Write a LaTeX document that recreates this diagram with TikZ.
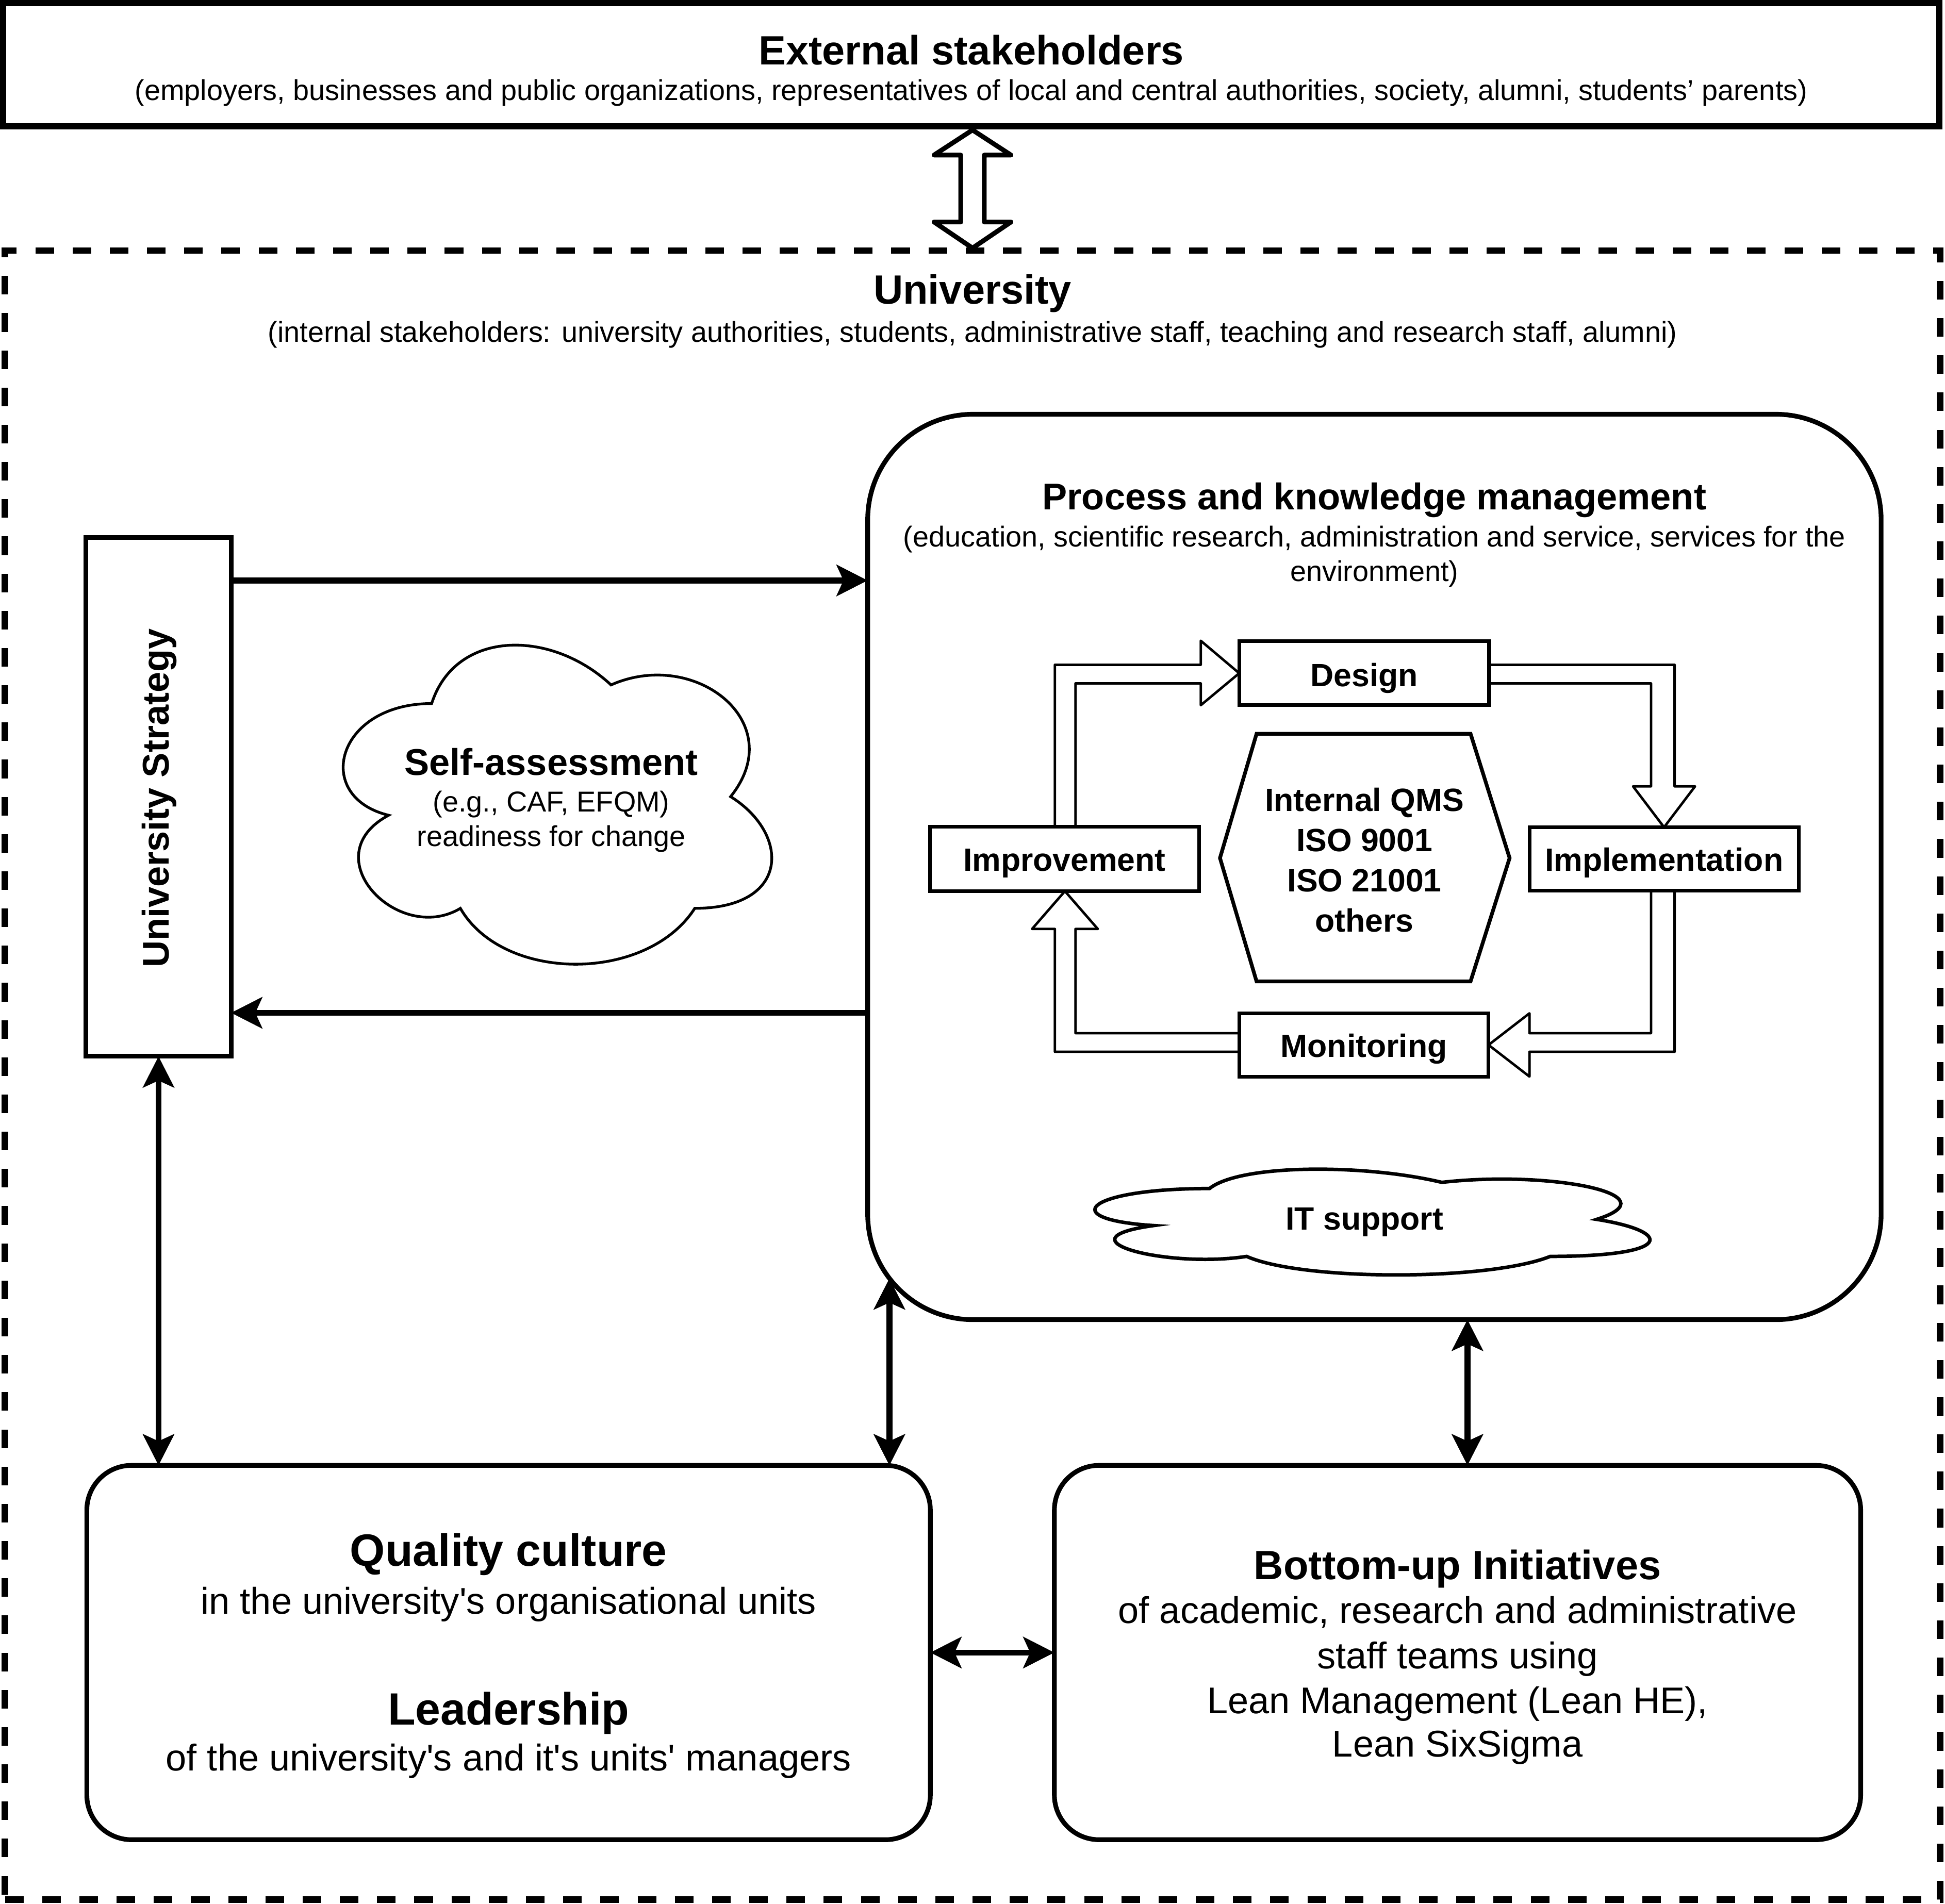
\documentclass[tikz,border=0pt]{standalone}
\usepackage{fontspec}
\setmainfont{Liberation Sans}
\usetikzlibrary{arrows.meta,calc}
\begin{document}
\begin{tikzpicture}[x=1pt,y=-1pt,
  >={Stealth[length=25pt,width=25pt,inset=5.5pt]},
  every node/.style={inner sep=0pt,outer sep=0pt},
  txt/.style={anchor=base},
  fT/.style={font=\fontsize{33}{40}\selectfont\bfseries},
  fS/.style={font=\fontsize{23.2}{28}\selectfont},
  fP/.style={font=\fontsize{30}{36}\selectfont\bfseries},
  fC/.style={font=\fontsize{26}{32}\selectfont\bfseries},
  fQ/.style={font=\fontsize{36.5}{44}\selectfont\bfseries},
  fB/.style={font=\fontsize{30}{36}\selectfont},
  uniframe/.style={draw,line width=5.3pt,dash pattern=on 15pt off 15pt},
  extbox/.style={draw,line width=5pt,fill=white},
  bigbox/.style={draw,line width=3.8pt,fill=white},
  sbox/.style={draw,line width=3.8pt,fill=white},
  cbox/.style={draw,line width=3pt,fill=white},
  barrow/.style={draw,line width=2pt,fill=white,line join=round},
  dblock/.style={draw,line width=3.8pt,fill=white,line join=round},
  conn/.style={line width=4.8pt},
  cloudline/.style={draw,fill=white,line width=2.2pt},
]
\useasboundingbox (0,0) rectangle (1568,1534.8);
\fill[white] (0,0) rectangle (1568,1534.8);

% University frame
\node[uniframe,minimum width=1560pt,minimum height=1329.5pt,anchor=north west] (uni) at (4,202) {};

% External stakeholders
\node[extbox,minimum width=1561pt,minimum height=99.5pt,anchor=north west] (ext) at (2.5,2.5) {};
\node[fT,txt] (extT) at (783,52) {External stakeholders};
\node[fS,txt] (extS) at (783,81) {(employers, businesses and public organizations, representatives of local and central authorities, society, alumni, students’ parents)};

% double block arrow between external stakeholders and university
\draw[dblock,shift={(ext.south)}] (1,2.8) -- (32,23) -- (10.5,23) -- (10.5,77) -- (32,77) -- (1,98)
  -- (-30,77) -- (-8.5,77) -- (-8.5,23) -- (-30,23) -- cycle;

\node[fT,txt] (uniT) at (784,245) {University};
\node[fS,txt] (uniS) at (784,276) {(internal stakeholders: university authorities, students, administrative staff, teaching and research staff, alumni)};

% Process and knowledge management
\node[bigbox,rounded corners=85pt,minimum width=817pt,minimum height=730pt,anchor=north west] (pk) at (699.5,334) {};
\node[fP,txt] (pkT) at (1108,411) {Process and knowledge management};
\node[fS,txt] (pkS1) at (1108,441) {(education, scientific research, administration and service, services for the};
\node[fS,txt] (pkS2) at (1108,468.5) {environment)};

% University strategy
\node[sbox,minimum width=117pt,minimum height=418.5pt,anchor=north west] (strat) at (69.3,433.2) {};
\node[fP,anchor=base,rotate=90] (stratT) at (136,643.5) {University Strategy};

% Self-assessment cloud
\node[minimum width=385.6pt,minimum height=300.2pt,anchor=north west] (sa) at (251.6,492.2) {};
\draw[cloudline,shift={(sa.north west)},xscale=385.6,yscale=300.2]
  (0.25,0.25) .. controls (0.05,0.25) and (0,0.5) .. (0.16,0.55)
  .. controls (0,0.66) and (0.18,0.9) .. (0.31,0.8)
  .. controls (0.4,1) and (0.7,1) .. (0.8,0.8)
  .. controls (1,0.8) and (1,0.6) .. (0.875,0.5)
  .. controls (1,0.3) and (0.8,0.1) .. (0.625,0.2)
  .. controls (0.5,0.05) and (0.3,0.05) .. (0.25,0.25) -- cycle;
\node[fP,txt] (saT) at (444.4,625) {Self-assessment};
\node[fS,txt] (saS1) at (444.4,654.5) {(e.g., CAF, EFQM)};
\node[fS,txt] (saS2) at (444.4,682.5) {readiness for change};

% cycle block arrows
\draw[barrow] (850.4,666.6) -- (850.4,536) -- (968,536) -- (968,516.6) -- (999,542.8) -- (968,568.6) -- (968,551) -- (867,551) -- (867,666.6);
\draw[barrow] (1200.5,536) -- (1350,536) -- (1350,634) -- (1366.5,634) -- (1341.5,667) -- (1316.5,634) -- (1331,634) -- (1331,551) -- (1200.5,551);
\draw[barrow] (1350,718) -- (1350,848) -- (1233,848) -- (1233,868) -- (1200,842.5) -- (1233,817) -- (1233,833) -- (1331,833) -- (1331,718);
\draw[barrow] (999,848) -- (850.4,848) -- (850.4,749) -- (832,749) -- (858.5,718.5) -- (885,749) -- (867,749) -- (867,833) -- (999,833);

% cycle boxes
\node[cbox,minimum width=201.5pt,minimum height=51.6pt,anchor=north west] (des) at (999,517) {};
\node[fC,txt] (desT) at (des.center |- 0,553.5) {Design};
\node[cbox,minimum width=217.1pt,minimum height=51.9pt,anchor=north west] (imp) at (749.6,666.6) {};
\node[fC,txt] (impT) at (imp.center |- 0,702.5) {Improvement};
\node[cbox,minimum width=217pt,minimum height=51pt,anchor=north west] (impl) at (1233,667) {};
\node[fC,txt] (implT) at (impl.center |- 0,702.5) {Implementation};
\node[cbox,minimum width=201pt,minimum height=51pt,anchor=north west] (mon) at (999,817) {};
\node[fC,txt] (monT) at (mon.center |- 0,852.5) {Monitoring};

% hexagon
\draw[cbox] (1013,591.6) -- (1185.5,591.6) -- (1217,691.8) -- (1185.5,791.3) -- (1013,791.3) -- (983.5,691.8) -- cycle;
\node[fC,txt] (hex1) at (1100,654) {Internal QMS};
\node[fC,txt] (hex2) at (1100,686.5) {ISO 9001};
\node[fC,txt] (hex3) at (1100,719) {ISO 21001};
\node[fC,txt] (hex4) at (1100,751.5) {others};

% IT support cloud
\node[minimum width=499.4pt,minimum height=99.5pt,anchor=north west] (it) at (850.2,933.4) {};
\draw[cloudline,line width=2.8pt,shift={(it.north west)},xscale=499.4,yscale=99.5]
  (0.25,0.25) .. controls (0.05,0.25) and (0,0.5) .. (0.16,0.55)
  .. controls (0,0.66) and (0.18,0.9) .. (0.31,0.8)
  .. controls (0.4,1) and (0.7,1) .. (0.8,0.8)
  .. controls (1,0.8) and (1,0.6) .. (0.875,0.5)
  .. controls (1,0.3) and (0.8,0.1) .. (0.625,0.2)
  .. controls (0.5,0.05) and (0.3,0.05) .. (0.25,0.25) -- cycle;
\node[fC,txt] (itT) at (1100,991.5) {IT support};

% Quality culture / Leadership
\node[bigbox,rounded corners=36pt,minimum width=680pt,minimum height=301.8pt,anchor=north west] (qc) at (70,1181.5) {};
\node[fQ,txt] (qcT1) at (410,1262.5) {Quality culture};
\node[fB,txt] (qcS1) at (410,1301.5) {in the university\textquotesingle s organisational units};
\node[fQ,txt] (qcT2) at (410,1390.5) {Leadership};
\node[fB,txt] (qcS2) at (410,1427.5) {of the university\textquotesingle s and it\textquotesingle s units\textquotesingle\ managers};

% Bottom-up initiatives
\node[bigbox,rounded corners=36pt,minimum width=650pt,minimum height=301.8pt,anchor=north west] (bu) at (850,1181.5) {};
\node[fT,txt] (buT) at (1175,1273.5) {Bottom-up Initiatives};
\node[fB,txt] (buS1) at (1175,1309) {of academic, research and administrative};
\node[fB,txt] (buS2) at (1175,1345.5) {staff teams using};
\node[fB,txt] (buS3) at (1175,1381.5) {Lean Management (Lean HE),};
\node[fB,txt] (buS4) at (1175,1416.5) {Lean SixSigma};

% connectors
\coordinate (sA) at ([yshift=-34.8pt]strat.north east);
\coordinate (sB) at ([yshift=-383.4pt]strat.north east);
\draw[conn,->] (sA) -- (sA -| pk.west);
\draw[conn,->] (sB -| pk.west) -- (sB);
\draw[conn,<->] (strat.south) -- (strat.south |- qc.north);
\coordinate (pkc) at (717,1030.7);
\draw[conn,<->] (pkc) -- (pkc |- qc.north);
\coordinate (buc) at ([xshift=8pt]bu.north);
\draw[conn,<->] (buc |- pk.south) -- (buc);
\draw[conn,<->] (qc.east) -- (bu.west);
\end{tikzpicture}
\end{document}
